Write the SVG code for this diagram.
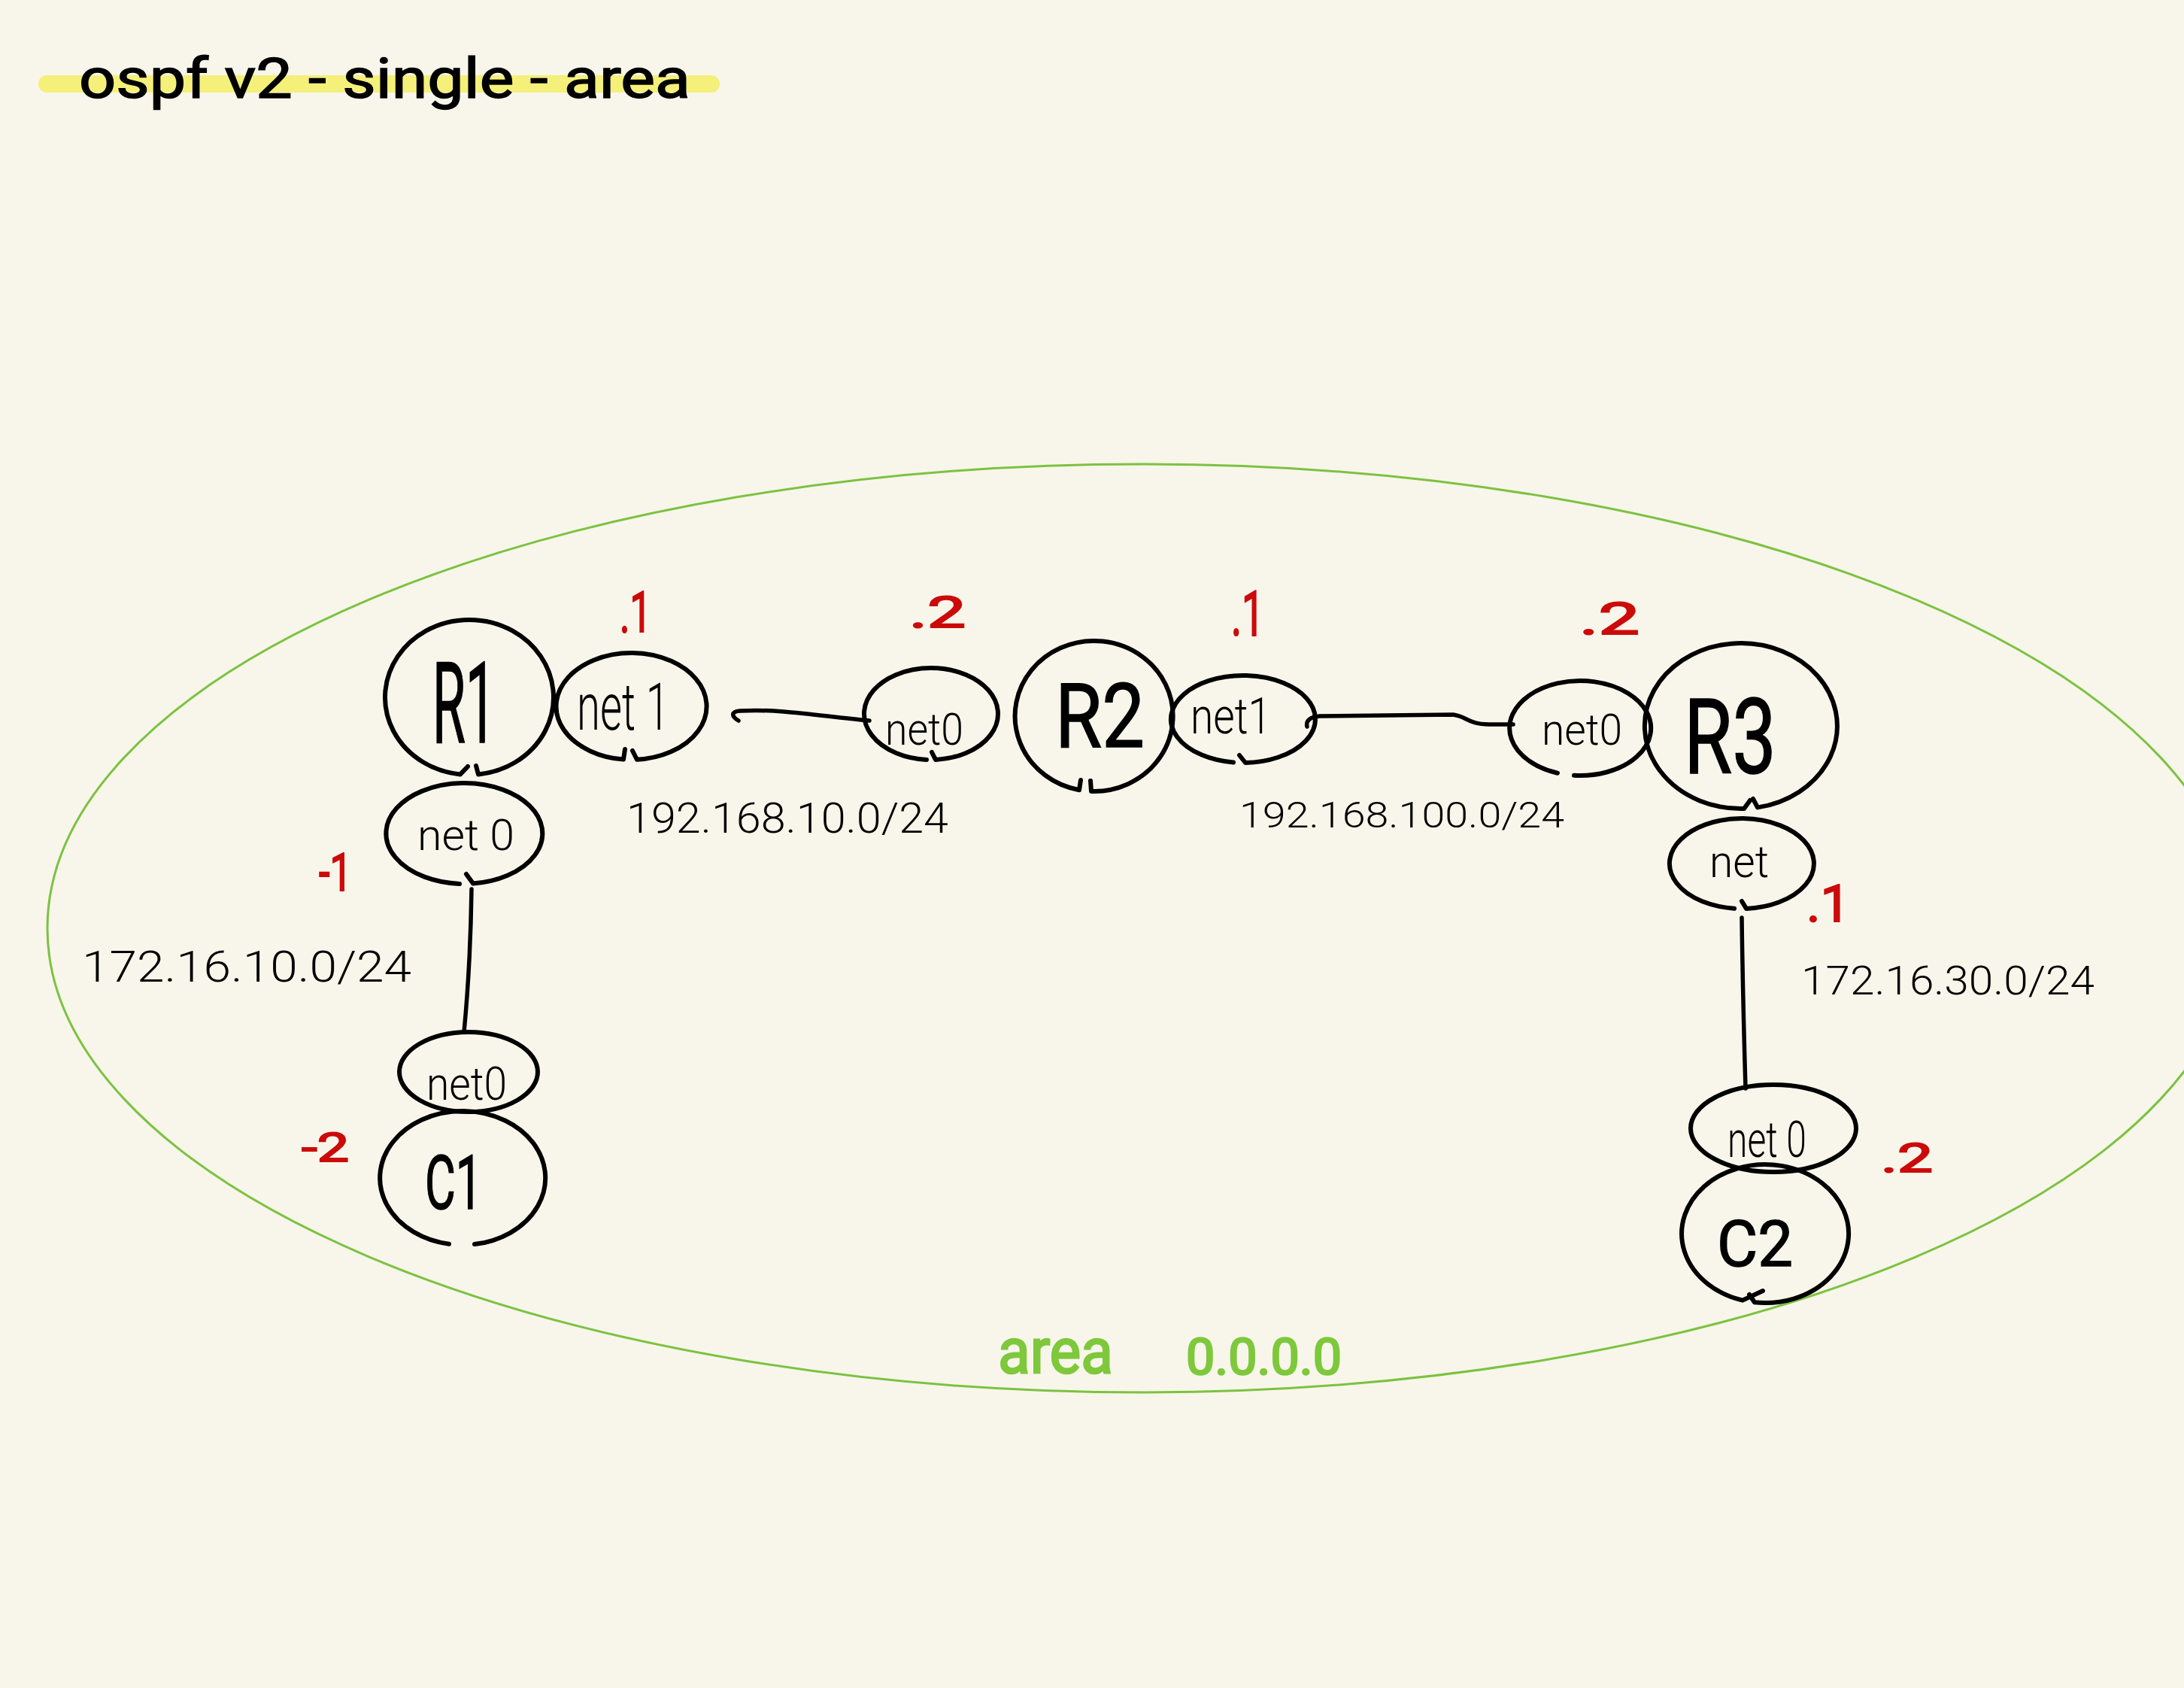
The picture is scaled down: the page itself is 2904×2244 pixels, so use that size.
<svg xmlns="http://www.w3.org/2000/svg" width="2904" height="2244" viewBox="0 0 2904 2244">
<style>
.ring{fill:none;stroke:#000;stroke-width:6;stroke-linecap:round;stroke-linejoin:round}
.link{fill:none;stroke:#000;stroke-width:5.5;stroke-linecap:round;stroke-linejoin:round}
.hand{font-family:Roboto,'Liberation Sans',sans-serif;font-weight:300;fill:#000}
.big{font-family:Roboto,'Liberation Sans',sans-serif;font-weight:400;fill:#000;stroke:#000;stroke-width:1.5}
.red{font-family:Roboto,'Liberation Sans',sans-serif;font-weight:400;fill:#cc0a0a;stroke:#cc0a0a;stroke-width:2}
.title{font-family:Roboto,'Liberation Sans',sans-serif;font-weight:400;fill:#000;stroke:#000;stroke-width:1.5;font-size:74px}
.green{font-family:Roboto,'Liberation Sans',sans-serif;font-weight:400;fill:#7ec83c;stroke:#7ec83c;stroke-width:2.5}
</style>
<rect x="0" y="0" width="2904" height="2244" fill="#f8f6ea"/>

<g id="title">
  <rect x="51" y="100" width="906" height="23" rx="11.5" fill="#f4f07a"/>
  <text class="title" x="105" y="130" textLength="813" lengthAdjust="spacingAndGlyphs">ospf v2 - single - area</text>
</g>

<g id="area">
  <ellipse cx="1519" cy="1234" rx="1456" ry="617" fill="none" stroke="#7cc242" stroke-width="3"/>
  <text class="green" x="1327" y="1825" font-size="84" textLength="153" lengthAdjust="spacingAndGlyphs">area</text>
  <text class="green" x="1577" y="1827" font-size="66" textLength="207" lengthAdjust="spacingAndGlyphs">0.0.0.0</text>
</g>

<g id="connectors">
  <path class="link" d="M 982 958 C 972 952 972 946 984 945 C 1040 942 1090 952 1156 958"/>
  <path class="link" d="M 1738 966 C 1736 958 1742 953 1755 952 L 1932 950 C 1950 952 1952 963 1980 963 L 2012 963"/>
  <path class="link" d="M 627 1182 C 626 1250 622 1320 617 1372"/>
  <path class="link" d="M 2316 1220 C 2317 1300 2319 1380 2321 1447"/>
</g>

<g id="R1">
  <path class="ring" d="M 622 1019 L 612 1029.4 A 112 103 0 1 1 636 1029.4 L 633 1018"/>
  <text class="big" x="575" y="987" font-size="150" textLength="84" lengthAdjust="spacingAndGlyphs">R1</text>
</g>
<g id="R1-net1">
  <path class="ring" d="M 831 996 L 829 1009.6 A 100 71 0 1 1 847 1009.8 L 841 998"/>
  <text class="hand" x="767" y="970" font-size="88" textLength="123" lengthAdjust="spacingAndGlyphs">net 1</text>
  <text class="red" x="824" y="840" font-size="76" textLength="42" lengthAdjust="spacingAndGlyphs">.1</text>
</g>
<g id="R1-net0">
  <path class="ring" d="M 611 1174.9 A 104 67 0 1 1 629 1174.6 L 620 1162"/>
  <text class="hand" x="555" y="1130" font-size="58" textLength="129" lengthAdjust="spacingAndGlyphs">net 0</text>
  <text class="red" x="424" y="1184" font-size="70" textLength="44" lengthAdjust="spacingAndGlyphs">-1</text>
</g>
<g id="R2-net0">
  <path class="ring" d="M 1232 1009.9 A 89 61 0 1 1 1244 1009.9 L 1239 1000"/>
  <text class="hand" x="1177" y="990" font-size="60" textLength="104" lengthAdjust="spacingAndGlyphs">net0</text>
  <text class="red" x="1209" y="834" font-size="58" textLength="75" lengthAdjust="spacingAndGlyphs">.2</text>
</g>
<g id="R2">
  <path class="ring" d="M 1437 1037 L 1435 1050.2 A 105 100 0 1 1 1451 1051.9 L 1450 1038"/>
  <text class="big" x="1403" y="993" font-size="118" textLength="119" lengthAdjust="spacingAndGlyphs">R2</text>
</g>
<g id="R2-net1">
  <path class="ring" d="M 1640 1013.5 A 96 58 0 1 1 1656 1014 L 1648 1004"/>
  <text class="hand" x="1583" y="975" font-size="66" textLength="107" lengthAdjust="spacingAndGlyphs">net1</text>
  <text class="red" x="1637" y="845" font-size="84" textLength="44" lengthAdjust="spacingAndGlyphs">.1</text>
</g>
<g id="R3-net0">
  <path class="ring" d="M 2071 1027.7 A 94 63 0 1 1 2093 1030.8"/>
  <text class="hand" x="2050" y="990" font-size="58" textLength="107" lengthAdjust="spacingAndGlyphs">net0</text>
  <text class="red" x="2100" y="843" font-size="60" textLength="80" lengthAdjust="spacingAndGlyphs">.2</text>
</g>
<g id="R3">
  <path class="ring" d="M 2327 1064 L 2319 1075 A 128 110 0 1 1 2337 1073.4 L 2331 1062"/>
  <text class="big" x="2239" y="1028" font-size="140" textLength="123" lengthAdjust="spacingAndGlyphs">R3</text>
</g>
<g id="R3-net">
  <path class="ring" d="M 2306 1207.7 A 96 60 0 1 1 2322 1207.9 L 2316 1198"/>
  <text class="hand" x="2273" y="1166" font-size="60" textLength="79" lengthAdjust="spacingAndGlyphs">net</text>
  <text class="red" x="2402" y="1225" font-size="68" textLength="58" lengthAdjust="spacingAndGlyphs">.1</text>
</g>
<g id="C1-net0">
  <ellipse class="ring" cx="623" cy="1425" rx="92" ry="53"/>
  <text class="hand" x="567" y="1462" font-size="62" textLength="107" lengthAdjust="spacingAndGlyphs">net0</text>
  <text class="red" x="401" y="1544" font-size="54" textLength="63" lengthAdjust="spacingAndGlyphs">-2</text>
</g>
<g id="C1">
  <path class="ring" d="M 597 1653.8 A 110 89 0 1 1 631 1654.1"/>
  <text class="big" x="565" y="1607" font-size="100" textLength="76" lengthAdjust="spacingAndGlyphs">C1</text>
</g>
<g id="C2-net0">
  <ellipse class="ring" cx="2358" cy="1500" rx="110" ry="58"/>
  <text class="hand" x="2297" y="1538" font-size="66" textLength="105" lengthAdjust="spacingAndGlyphs">net 0</text>
  <text class="red" x="2501" y="1558" font-size="54" textLength="69" lengthAdjust="spacingAndGlyphs">.2</text>
</g>
<g id="C2">
  <path class="ring" d="M 2344 1716 L 2317 1728.6 A 111 92 0 1 1 2333 1731.3 L 2326 1721"/>
  <text class="big" x="2283" y="1683" font-size="86" textLength="101" lengthAdjust="spacingAndGlyphs">C2</text>
</g>

<g id="subnets">
  <text class="hand" x="833" y="1107" font-size="56" textLength="428" lengthAdjust="spacingAndGlyphs">192.168.10.0/24</text>
  <text class="hand" x="1648" y="1100" font-size="48" textLength="432" lengthAdjust="spacingAndGlyphs">192.168.100.0/24</text>
  <text class="hand" x="109" y="1305" font-size="58" textLength="438" lengthAdjust="spacingAndGlyphs">172.16.10.0/24</text>
  <text class="hand" x="2395" y="1322" font-size="54" textLength="390" lengthAdjust="spacingAndGlyphs">172.16.30.0/24</text>
</g>
</svg>
